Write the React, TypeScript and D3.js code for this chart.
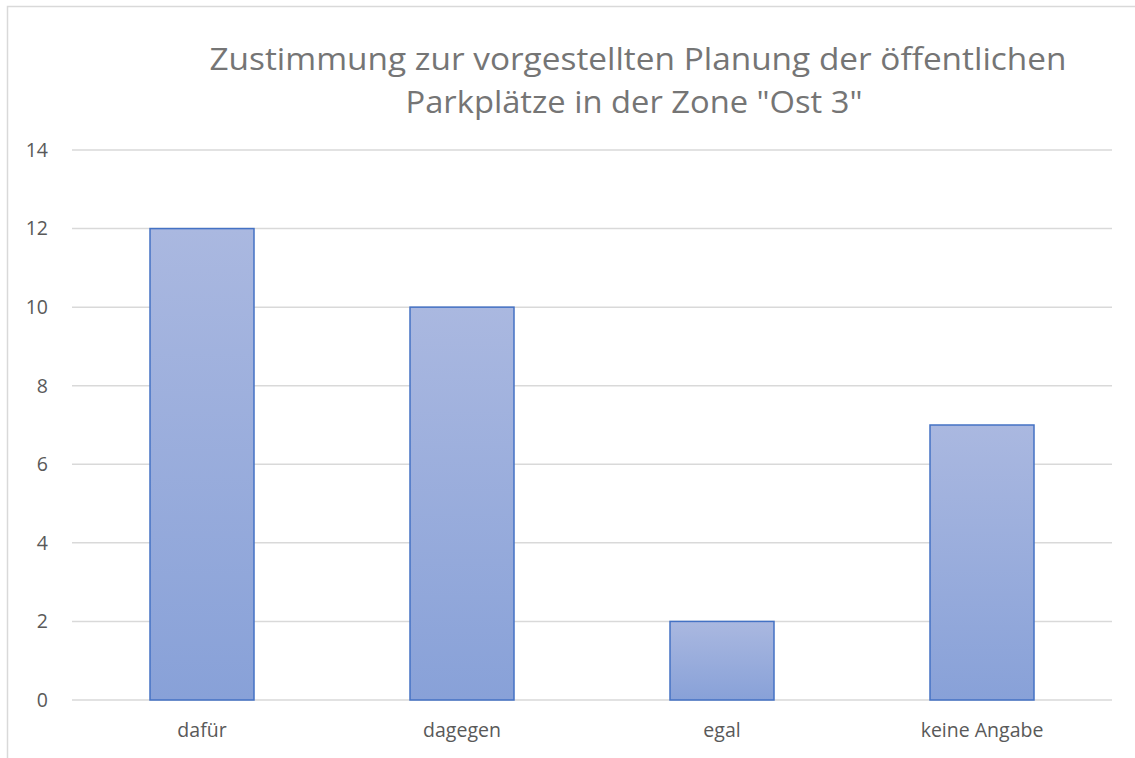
import React from "react";
import * as d3 from "d3";

const categories = ["dafür", "dagegen", "egal", "keine Angabe"];
const values = [12, 10, 2, 7];
const yTicks = [0, 2, 4, 6, 8, 10, 12, 14];
const titleLines = ["Zustimmung zur vorgestellten Planung der öffentlichen", "Parkplätze in der Zone \"Ost 3\""];

const W = 1135;
const H = 758;
const FONT = "'Open Sans', 'Noto Sans', sans-serif";

export default function App() {
  const x = d3.scaleBand<string>().domain(categories).range([72, 1112]).paddingInner(0.6).paddingOuter(0.3);
  const y = d3.scaleLinear().domain([0, 14]).range([700, 150]);

  return (
    <svg width={W} height={H} style={{ position: "absolute", left: 0, top: 0, background: "#fff" }}>
      <defs>
        <linearGradient id="barGrad" x1="0" y1="0" x2="0" y2="1">
          <stop offset="0" stopColor="#aab8e0" />
          <stop offset="1" stopColor="#88a1d8" />
        </linearGradient>
      </defs>
      <rect x={7.5} y={6.5} width={W + 20} height={H + 20} fill="#fff" stroke="#d9d9d9" strokeWidth={1.5} />
      <text x={638} y={70} textAnchor="middle" fontFamily={FONT} fontSize={31} fill="#757575" textLength={857} lengthAdjust="spacingAndGlyphs">
        {titleLines[0]}
      </text>
      <text x={634} y={113} textAnchor="middle" fontFamily={FONT} fontSize={31} fill="#757575" textLength={457} lengthAdjust="spacingAndGlyphs">
        {titleLines[1]}
      </text>
      {yTicks.map((t) => (
        <g key={t}>
          <line x1={72} x2={1112} y1={y(t)} y2={y(t)} stroke="#d9d9d9" strokeWidth={1.5} />
          <text x={48} y={y(t)} dy="0.35em" textAnchor="end" fontFamily={FONT} fontSize={19.5} fill="#595959">
            {t}
          </text>
        </g>
      ))}
      {categories.map((c, i) => (
        <g key={c}>
          <rect
            x={x(c)!}
            y={y(values[i])}
            width={x.bandwidth()}
            height={y(0) - y(values[i])}
            fill="url(#barGrad)"
            stroke="#4472c4"
            strokeWidth={1.5}
          />
          <text x={x(c)! + x.bandwidth() / 2} y={737} textAnchor="middle" fontFamily={FONT} fontSize={19.5} fill="#595959">
            {c}
          </text>
        </g>
      ))}
    </svg>
  );
}
